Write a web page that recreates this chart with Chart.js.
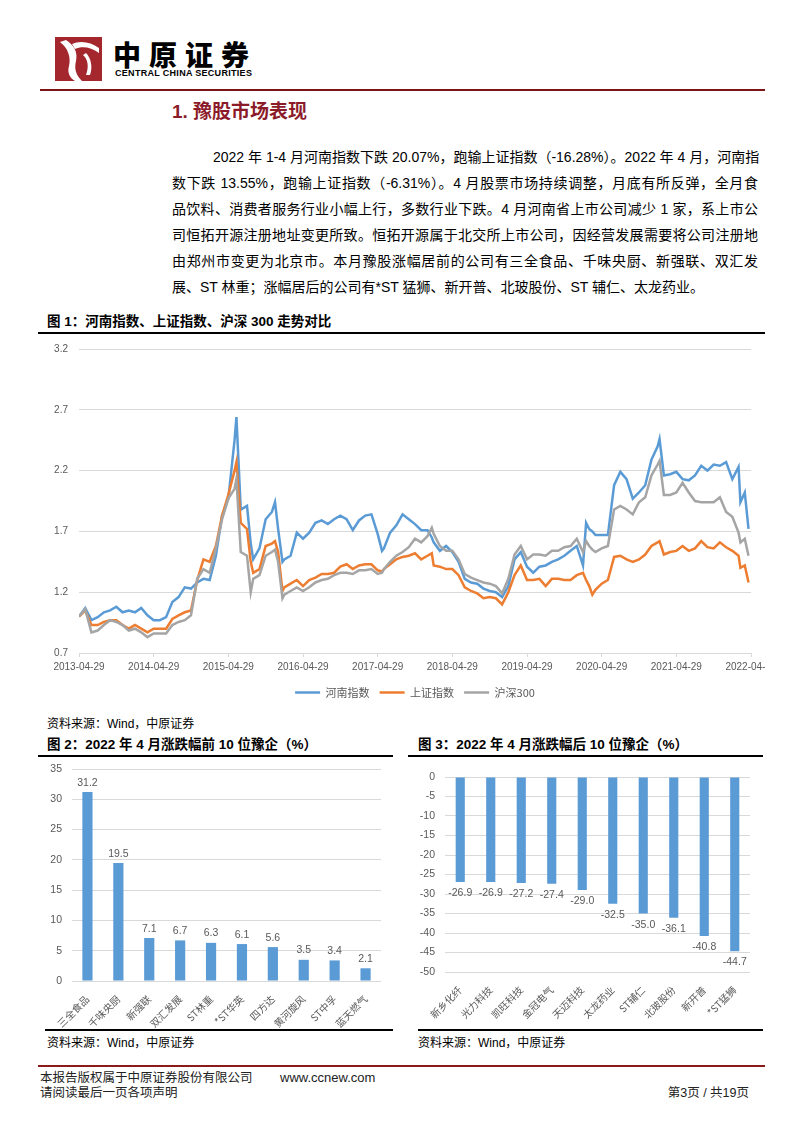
<!DOCTYPE html>
<html>
<head>
<meta charset="utf-8">
<script src="https://cdn.jsdelivr.net/npm/chart.js@4.4.0/dist/chart.umd.min.js"></script>
<style>
  html, body { margin: 0; padding: 0; background: #fff; }
  body { width: 802px; height: 1133px; position: relative; overflow: hidden;
         font-family: "Liberation Sans", "Noto Sans CJK SC", sans-serif; color: #000; }
  .abs { position: absolute; white-space: nowrap; }
  .para { font-size: 14px; line-height: 20px; text-align: justify; text-align-last: justify; }
  .ctitle { font-size: 13.5px; font-weight: bold; line-height: 18px; }
  .src { font-size: 12px; line-height: 16px; }
  .foot { font-size: 12.5px; line-height: 16px; color: #222; }
  .rule { position: absolute; height: 2px; background: #000; }
</style>
</head>
<body>

<!-- header -->
<svg class="abs" style="left:55px;top:37px" width="47" height="44" viewBox="0 0 47 44">
  <rect width="47" height="44" fill="#a3272d"/>
  <path d="M5 5 C 13 11, 16 20, 14 29 C 12 36, 15 41, 20 44 L 27 44 C 21 38, 19 32, 21 24 C 23 15, 19 8, 11 3 Z" fill="#fff"/>
  <path d="M17 7 C 25 3, 36 5, 44 11 L 44 16 C 36 10, 27 9, 20 12 Z" fill="#fff"/>
  <path d="M28 18 C 33 22, 34 30, 31 38 L 35 38 C 38 30, 36 21, 31 16 Z" fill="#fff"/>
</svg>
<div class="abs" style="left:113px;top:38px;font-size:28px;line-height:32px;font-weight:900;letter-spacing:8px;font-family:'Noto Sans CJK SC';">中原证券</div>
<div class="abs" style="left:115px;top:68px;font-size:9px;line-height:10px;font-weight:bold;letter-spacing:0.3px;">CENTRAL CHINA SECURITIES</div>
<div class="abs" style="left:40px;top:89px;width:725px;height:2px;background:#7b1517;"></div>

<div class="abs" style="left:172px;top:100px;font-size:19px;line-height:24px;font-weight:bold;color:#8c1b2a;">1. 豫股市场表现</div>

<div class="abs para" style="left:213px;top:147px;width:545px;">2022 年 1-4 月河南指数下跌 20.07%，跑输上证指数（-16.28%）。2022 年 4 月，河南指</div>
<div class="abs para" style="left:172px;top:173px;width:586px;">数下跌 13.55%，跑输上证指数（-6.31%）。4 月股票市场持续调整，月底有所反弹，全月食</div>
<div class="abs para" style="left:172px;top:199px;width:586px;">品饮料、消费者服务行业小幅上行，多数行业下跌。4 月河南省上市公司减少 1 家，系上市公</div>
<div class="abs para" style="left:172px;top:225px;width:586px;">司恒拓开源注册地址变更所致。恒拓开源属于北交所上市公司，因经营发展需要将公司注册地</div>
<div class="abs para" style="left:172px;top:251px;width:586px;">由郑州市变更为北京市。本月豫股涨幅居前的公司有三全食品、千味央厨、新强联、双汇发</div>
<div class="abs" style="left:172px;top:277px;font-size:14px;line-height:20px;">展、ST 林重；涨幅居后的公司有*ST 猛狮、新开普、北玻股份、ST 辅仁、太龙药业。</div>

<!-- figure 1 -->
<div class="abs ctitle" style="left:47px;top:313px;">图 1：河南指数、上证指数、沪深 300 走势对比</div>
<div class="rule" style="left:38px;top:332px;width:727px;"></div>
<canvas id="lineChart" class="abs" style="left:38px;top:338px;" width="727" height="370"></canvas>
<div class="abs src" style="left:47px;top:716px;">资料来源：Wind，中原证券</div>

<!-- figure 2 -->
<div class="abs ctitle" style="left:47px;top:736px;">图 2：2022 年 4 月涨跌幅前 10 位豫企（%）</div>
<div class="rule" style="left:38px;top:755px;width:355px;"></div>
<canvas id="topChart" class="abs" style="left:38px;top:760px;" width="355" height="268"></canvas>
<div class="rule" style="left:45px;top:1029px;width:348px;height:1.5px;"></div>
<div class="abs src" style="left:47px;top:1035px;">资料来源：Wind，中原证券</div>

<!-- figure 3 -->
<div class="abs ctitle" style="left:418px;top:736px;">图 3：2022 年 4 月涨跌幅后 10 位豫企（%）</div>
<div class="rule" style="left:408px;top:755px;width:355px;"></div>
<canvas id="bottomChart" class="abs" style="left:408px;top:768px;" width="355" height="260"></canvas>
<div class="rule" style="left:418px;top:1029px;width:345px;height:1.5px;"></div>
<div class="abs src" style="left:418px;top:1035px;">资料来源：Wind，中原证券</div>

<!-- footer -->
<div class="abs" style="left:38px;top:1065px;width:727px;height:2px;background:#8b1a1a;"></div>
<div class="abs foot" style="left:40px;top:1070px;">本报告版权属于中原证券股份有限公司</div>
<div class="abs foot" style="left:280px;top:1070px;font-size:13px;">www.ccnew.com</div>
<div class="abs foot" style="left:40px;top:1085px;">请阅读最后一页各项声明</div>
<div class="abs foot" style="right:53px;top:1085px;">第3页 / 共19页</div>

<script>
// figure 1: months since 2013-04-29, index values
const monthIdx = [0, 1, 2, 3, 4, 5, 6, 7, 8, 9, 10, 11, 12, 13, 14, 15, 16, 17, 18, 19,
    20, 21, 22, 23, 24, 25, 25.3, 26, 27, 27.6, 28, 29, 30, 31, 31.5, 32, 32.7, 33, 34, 35,
    36, 37, 38, 39, 40, 41, 42, 43, 44, 45, 46, 47, 48, 48.7, 49, 50, 51, 52, 53, 54,
    55, 56, 56.7, 57, 58, 59, 60, 61, 62, 63, 64, 65, 66, 67, 68, 69, 70, 71, 72, 73,
    74, 75, 76, 77, 78, 79, 80, 81, 81.5, 82, 82.5, 83, 84, 85, 86, 87, 88, 89, 90, 91,
    92, 93, 93.3, 94, 95, 96, 97, 98, 99, 100, 101, 102, 103, 104, 105, 106, 106.3, 107, 107.6];

const henanIdx = [1.00, 1.07, 0.97, 0.995, 1.035, 1.05, 1.08, 1.035, 1.05, 1.035, 1.07, 1.01, 0.97, 0.97, 0.995, 1.12, 1.16, 1.24, 1.23, 1.28,
    1.31, 1.30, 1.50, 1.83, 1.97, 2.45, 2.64, 1.88, 1.91, 1.60, 1.47, 1.56, 1.80, 1.86, 1.94, 1.72, 1.45, 1.47, 1.50, 1.69,
    1.64, 1.69, 1.77, 1.79, 1.76, 1.80, 1.83, 1.80, 1.71, 1.79, 1.83, 1.84, 1.68, 1.54, 1.56, 1.69, 1.75, 1.84, 1.80, 1.76,
    1.71, 1.71, 1.65, 1.61, 1.54, 1.58, 1.53, 1.45, 1.31, 1.28, 1.27, 1.23, 1.21, 1.20, 1.16, 1.25, 1.47, 1.53, 1.41, 1.36,
    1.41, 1.42, 1.45, 1.47, 1.50, 1.54, 1.58, 1.42, 1.77, 1.72, 1.70, 1.67, 1.67, 1.67, 2.08, 2.19, 2.13, 1.97, 2.02, 2.08,
    2.29, 2.40, 2.46, 2.16, 2.17, 2.19, 2.13, 2.12, 2.16, 2.24, 2.20, 2.25, 2.24, 2.27, 2.13, 2.23, 1.94, 2.02, 1.72];

const shIdx = [1.00, 1.05, 0.93, 0.93, 0.955, 0.97, 0.97, 0.93, 0.90, 0.93, 0.90, 0.87, 0.90, 0.90, 0.90, 0.98, 1.01, 1.035, 1.05, 1.30,
    1.47, 1.45, 1.58, 1.83, 2.00, 2.20, 2.27, 1.77, 1.72, 1.45, 1.36, 1.39, 1.58, 1.60, 1.62, 1.53, 1.21, 1.24, 1.27, 1.30,
    1.25, 1.30, 1.32, 1.35, 1.35, 1.36, 1.41, 1.43, 1.39, 1.42, 1.43, 1.43, 1.38, 1.37, 1.39, 1.43, 1.47, 1.49, 1.50, 1.52,
    1.47, 1.50, 1.52, 1.42, 1.41, 1.39, 1.39, 1.34, 1.24, 1.21, 1.19, 1.15, 1.16, 1.15, 1.10, 1.20, 1.34, 1.42, 1.30, 1.30,
    1.31, 1.25, 1.31, 1.31, 1.30, 1.30, 1.34, 1.36, 1.30, 1.25, 1.18, 1.22, 1.27, 1.30, 1.49, 1.50, 1.47, 1.45, 1.47, 1.51,
    1.58, 1.61, 1.62, 1.51, 1.53, 1.54, 1.58, 1.54, 1.56, 1.62, 1.57, 1.56, 1.61, 1.57, 1.54, 1.50, 1.40, 1.42, 1.28];

const hs300Idx = [1.00, 1.06, 0.87, 0.885, 0.93, 0.97, 0.955, 0.93, 0.885, 0.90, 0.87, 0.83, 0.86, 0.86, 0.86, 0.93, 0.955, 0.97, 1.01, 1.31,
    1.39, 1.36, 1.56, 1.80, 1.97, 2.05, 2.13, 1.53, 1.50, 1.20, 1.31, 1.34, 1.50, 1.53, 1.55, 1.45, 1.15, 1.18, 1.21, 1.24,
    1.21, 1.24, 1.28, 1.30, 1.31, 1.34, 1.36, 1.36, 1.35, 1.38, 1.38, 1.39, 1.35, 1.36, 1.39, 1.45, 1.50, 1.53, 1.57, 1.64,
    1.61, 1.66, 1.73, 1.68, 1.58, 1.54, 1.54, 1.47, 1.35, 1.32, 1.30, 1.28, 1.27, 1.25, 1.19, 1.31, 1.51, 1.58, 1.47, 1.51,
    1.51, 1.50, 1.54, 1.54, 1.57, 1.58, 1.64, 1.53, 1.62, 1.58, 1.55, 1.53, 1.56, 1.58, 1.88, 1.91, 1.88, 1.84, 1.94, 1.98,
    2.16, 2.25, 2.28, 2.00, 2.00, 2.02, 2.10, 2.02, 1.95, 1.94, 1.94, 1.94, 1.98, 1.86, 1.82, 1.69, 1.61, 1.64, 1.50];

const lineTickLabels = ['2013-04-29', '2014-04-29', '2015-04-29', '2016-04-29', '2017-04-29',
    '2018-04-29', '2019-04-29', '2020-04-29', '2021-04-29', '2022-04-29'];

// figure 2 and 3
const topNames = ['三全食品', '千味央厨', '新强联', '双汇发展', 'ST林重', '*ST华英', '四方达', '黄河旋风', 'ST中孚', '蓝天燃气'];
const topValues = [31.2, 19.5, 7.1, 6.7, 6.3, 6.1, 5.6, 3.5, 3.4, 2.1];

const bottomNames = ['新乡化纤', '光力科技', '凯旺科技', '金冠电气', '天迈科技', '太龙药业', 'ST辅仁', '北玻股份', '新开普', '*ST猛狮'];
const bottomValues = [-26.9, -26.9, -27.2, -27.4, -29.0, -32.5, -35.0, -36.1, -40.8, -44.7];

Chart.defaults.animation = false;
Chart.defaults.responsive = false;
Chart.defaults.devicePixelRatio = 1;
Chart.defaults.font.family = '"Liberation Sans", "Noto Sans CJK SC", sans-serif';
Chart.defaults.color = '#595959';

let fixY = (w) => (scale) => { scale.width = w; scale.paddingTop = 0; scale.paddingBottom = 0; };
let fixX = (h) => (scale) => { scale.height = h; scale.paddingLeft = 0; scale.paddingRight = 0; };

let toPoints = (values) => monthIdx.map((m, i) => ({ x: m, y: values[i] }));

let lineSet = (label, values, color, order) => ({
    label: label,
    data: toPoints(values),
    borderColor: color,
    backgroundColor: color,
    borderWidth: 2.5,
    pointRadius: 0,
    tension: 0,
    order: order
});

new Chart(document.getElementById('lineChart'), {
    type: 'line',
    data: {
        datasets: [
            lineSet('河南指数', henanIdx, '#5b9bd5', 3),
            lineSet('上证指数', shIdx, '#ed7d31', 2),
            lineSet('沪深300', hs300Idx, '#a5a5a5', 1)
        ]
    },
    options: {
        layout: { padding: { top: 11, right: 14, left: 0, bottom: 0 } },
        scales: {
            x: {
                type: 'linear',
                min: 0,
                max: 108,
                afterFit: fixX(24),
                ticks: {
                    stepSize: 12,
                    autoSkip: false,
                    maxRotation: 0,
                    padding: 4,
                    font: { size: 10 },
                    callback: (value) => lineTickLabels[Math.round(value / 12)]
                },
                grid: { drawOnChartArea: false, drawTicks: true, tickLength: 4, color: '#d9d9d9' },
                border: { display: true, color: '#d9d9d9' }
            },
            y: {
                min: 0.7,
                max: 3.2,
                afterFit: fixY(41),
                ticks: { stepSize: 0.5, padding: 11, font: { size: 10 }, callback: (v) => v.toFixed(1) },
                grid: { color: '#d9d9d9', drawTicks: false },
                border: { display: false }
            }
        },
        plugins: {
            tooltip: { enabled: false },
            legend: {
                position: 'bottom',
                fullSize: false,
                labels: {
                    usePointStyle: true,
                    pointStyle: 'line',
                    pointStyleWidth: 25,
                    padding: 10,
                    color: '#595959',
                    font: { size: 11, family: '"Noto Sans CJK SC"' },
                    sort: (a, b) => a.datasetIndex - b.datasetIndex
                }
            }
        }
    }
});

let barLabels = {
    id: 'barLabels',
    afterDatasetsDraw(chart) {
        let ctx = chart.ctx;
        let values = chart.data.datasets[0].data;
        ctx.save();
        ctx.font = '10.5px "Liberation Sans"';
        ctx.fillStyle = '#595959';
        ctx.textAlign = 'center';
        chart.getDatasetMeta(0).data.forEach((bar, i) => {
            let v = values[i];
            if (v >= 0) {
                ctx.textBaseline = 'bottom';
                ctx.fillText(v.toFixed(1), bar.x, bar.y - 4);
            } else {
                ctx.textBaseline = 'top';
                ctx.fillText(v.toFixed(1), bar.x, bar.y + 6);
            }
        });
        ctx.restore();
    }
};

let barChart = (id, names, values, yMin, yMax, yWidth, xHeight, padRight, barPct) => {
    new Chart(document.getElementById(id), {
        type: 'bar',
        data: {
            labels: names,
            datasets: [{
                data: values,
                backgroundColor: '#5b9bd5',
                barPercentage: barPct,
                categoryPercentage: 1
            }]
        },
        options: {
            layout: { padding: { top: 9, right: padRight, left: 0, bottom: 0 } },
            scales: {
                x: {
                    afterFit: fixX(xHeight),
                    ticks: {
                        minRotation: 45,
                        maxRotation: 45,
                        autoSkip: false,
                        padding: 4,
                        font: { size: 10, family: '"Noto Sans CJK SC"' }
                    },
                    grid: { display: false },
                    border: { display: false }
                },
                y: {
                    min: yMin,
                    max: yMax,
                    afterFit: fixY(yWidth),
                    ticks: { stepSize: 5, padding: 10, font: { size: 10.5 } },
                    grid: { color: '#d9d9d9', drawTicks: false },
                    border: { display: false }
                }
            },
            plugins: {
                tooltip: { enabled: false },
                legend: { display: false }
            }
        },
        plugins: [barLabels]
    });
};

barChart('topChart', topNames, topValues, 0, 35, 34, 47, 12, 0.33);
barChart('bottomChart', bottomNames, bottomValues, -50, 0, 37, 56, 13, 0.3);
</script>
</body>
</html>
